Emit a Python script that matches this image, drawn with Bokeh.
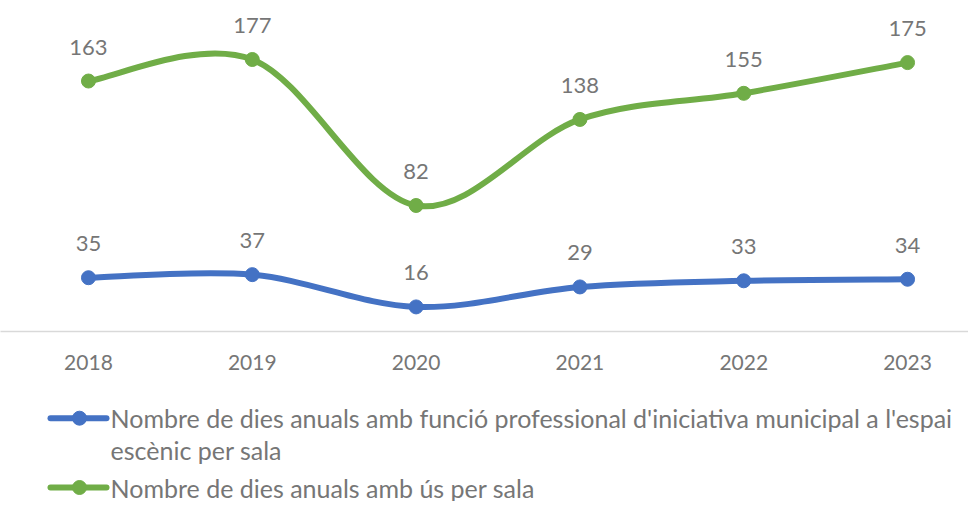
import numpy as np
from bokeh.plotting import figure
from bokeh.layouts import column
from bokeh.models import Range1d, FixedTicker, ColumnDataSource
from bokeh.embed import file_html
from bokeh.resources import INLINE
from bokeh.core.properties import value

years = ["2018", "2019", "2020", "2021", "2022", "2023"]
funcio = [35, 37, 16, 29, 33, 34]
us = [163, 177, 82, 138, 155, 175]
label_funcio = ["Nombre de dies anuals amb funció professional d'iniciativa municipal a l'espai",
                "escènic per sala"]
label_us = ["Nombre de dies anuals amb ús per sala"]

BLUE = "#4472C4"
GREEN = "#70AD47"
TEXT = "#767676"
FONT = "Lato"

xs = list(range(len(years)))


def bezier_source(vals):
    x = np.array(xs, dtype=float)
    y = np.array(vals, dtype=float)
    xp = np.concatenate([[x[0]], x, [x[-1]]])
    yp = np.concatenate([[y[0]], y, [y[-1]]])
    d = dict(x0=[], y0=[], x1=[], y1=[], cx0=[], cy0=[], cx1=[], cy1=[])
    for i in range(len(x) - 1):
        p0 = (xp[i], yp[i]); p1 = (xp[i + 1], yp[i + 1])
        p2 = (xp[i + 2], yp[i + 2]); p3 = (xp[i + 3], yp[i + 3])
        d["x0"].append(p1[0]); d["y0"].append(p1[1])
        d["x1"].append(p2[0]); d["y1"].append(p2[1])
        d["cx0"].append(p1[0] + (p2[0] - p0[0]) / 6)
        d["cy0"].append(p1[1] + (p2[1] - p0[1]) / 6)
        d["cx1"].append(p2[0] - (p3[0] - p1[0]) / 6)
        d["cy1"].append(p2[1] - (p3[1] - p1[1]) / 6)
    return ColumnDataSource(d)


# ---------------- main chart ----------------
p = figure(width=968, height=385, output_backend="svg", toolbar_location=None,
           x_range=Range1d(-0.537, 5.372), y_range=Range1d(0, 215.4),
           min_border_left=0, min_border_right=0, min_border_top=0, min_border_bottom=54)
p.outline_line_color = None
p.grid.visible = False
p.yaxis.visible = False
p.background_fill_color = "white"
p.border_fill_color = "white"

xa = p.xaxis[0]
xa.ticker = FixedTicker(ticks=xs)
xa.major_label_overrides = {i: y for i, y in enumerate(years)}
xa.axis_line_color = "#D9D9D9"
xa.axis_line_width = 1.5
xa.major_tick_line_color = None
xa.minor_tick_line_color = None
xa.major_label_text_font = FONT
xa.major_label_text_font_size = "21px"
xa.major_label_text_color = TEXT
xa.major_label_standoff = 17

for vals, color in [(funcio, BLUE), (us, GREEN)]:
    p.bezier(x0="x0", y0="y0", x1="x1", y1="y1", cx0="cx0", cy0="cy0", cx1="cx1", cy1="cy1",
             source=bezier_source(vals), line_color=color, line_width=6, line_cap="round")
    p.scatter(xs, vals, size=14, fill_color=color, line_color=color)
    p.text(xs, vals, text=[str(v) for v in vals], text_align="center", text_baseline="middle",
           y_offset=-34, text_font=value(FONT), text_font_size="22px", text_color=TEXT)

# ---------------- legend (drawn below, picture coordinates) ----------------
lg = figure(width=968, height=116, output_backend="svg", toolbar_location=None,
            x_range=Range1d(0, 968), y_range=Range1d(501, 385),
            min_border_left=0, min_border_right=0, min_border_top=0, min_border_bottom=0)
lg.outline_line_color = None
lg.grid.visible = False
lg.axis.visible = False
lg.background_fill_color = "white"
lg.border_fill_color = "white"

items = [(label_funcio, BLUE, 417.7), (label_us, GREEN, 487.0)]
for lines, color, gy in items:
    lg.segment(x0=[50], y0=[gy], x1=[106], y1=[gy], line_color=color, line_width=6, line_cap="round")
    lg.scatter([79], [gy], size=14, fill_color=color, line_color=color)
    lg.text([110] * len(lines), [gy + 31.7 * k for k in range(len(lines))], text=lines,
            text_align="left", text_baseline="middle",
            text_font=value(FONT), text_font_size="25px", text_color=TEXT)

layout = column(p, lg, spacing=0)
open("out.html", "w").write(file_html(layout, INLINE))
